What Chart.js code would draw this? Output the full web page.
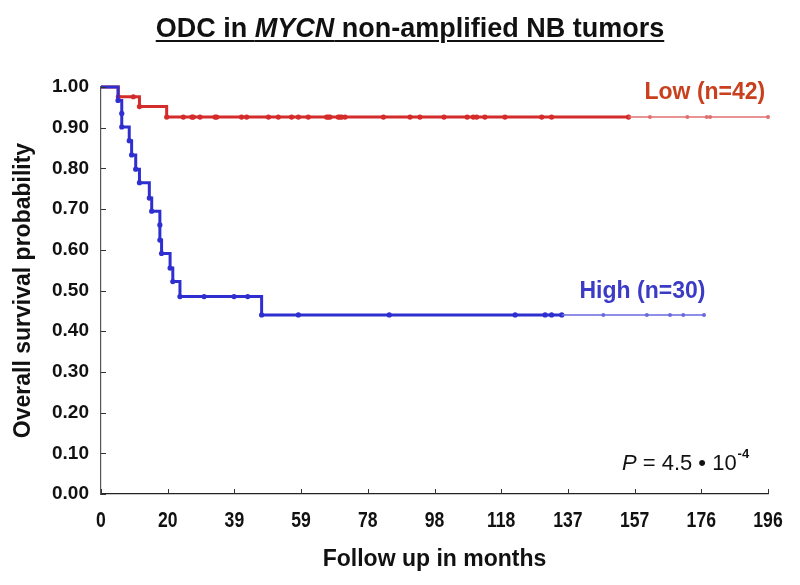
<!DOCTYPE html>
<html>
<head>
<meta charset="utf-8">
<script src="https://cdn.jsdelivr.net/npm/chart.js@4.4.0/dist/chart.umd.min.js"></script>
<style>
  body { margin: 0; background: #fff; }
  #wrap { position: relative; width: 800px; height: 585px; }
  #title {
    position: absolute; left: 0; width: 820px; top: 13px; text-align: center;
    font: bold 27px "Liberation Sans", Arial, sans-serif; color: #111;
  }
  #title span { text-decoration: underline; text-underline-offset: 3px; text-decoration-thickness: 2px; }
</style>
</head>
<body>
<div id="wrap">
  <canvas id="km" width="800" height="585"></canvas>
  <div id="title"><span>ODC in <i>MYCN</i> non-amplified NB tumors</span></div>
</div>
<script>
// Kaplan-Meier steps (months, survival)
const lowTimes = [0, 5.1, 9.5, 11.3, 19.3, 24.2, 26.7, 27.1, 29.1, 33.5, 34.0, 41.3, 42.8, 49.2, 52.1, 56.0, 58.0, 60.9,
  66.3, 66.8, 67.3, 69.7, 70.2, 70.7, 71.7, 83.0, 90.8, 93.7, 100.8, 107.6, 109.4, 110.4, 112.8, 118.7, 129.5, 132.4, 155.0];
const lowSurv = [1.0, 0.976, 0.976, 0.952, 0.926, 0.926, 0.926, 0.926, 0.926, 0.926, 0.926, 0.926, 0.926, 0.926, 0.926, 0.926, 0.926, 0.926,
  0.926, 0.926, 0.926, 0.926, 0.926, 0.926, 0.926, 0.926, 0.926, 0.926, 0.926, 0.926, 0.926, 0.926, 0.926, 0.926, 0.926, 0.926, 0.926];
const lowTailTimes = [155.0, 161.3, 172.3, 178.0, 179.0, 196.0];
const lowTailSurv = [0.926, 0.926, 0.926, 0.926, 0.926, 0.926];

const highTimes = [0, 5.0, 6.1, 6.1, 8.3, 9.0, 10.2, 11.3, 14.2, 14.9, 17.3, 17.3, 17.8, 20.3, 21.1, 23.2,
  30.3, 39.1, 43.1, 47.2, 58.0, 84.7, 121.7, 130.5, 132.4, 135.4];
const highSurv = [1.0, 0.967, 0.935, 0.902, 0.868, 0.833, 0.798, 0.765, 0.727, 0.695, 0.661, 0.624, 0.591, 0.555, 0.522, 0.485,
  0.485, 0.485, 0.485, 0.440, 0.440, 0.440, 0.440, 0.440, 0.440, 0.440];
const highTailTimes = [135.4, 147.6, 160.4, 167.2, 171.1, 177.2];
const highTailSurv = [0.440, 0.440, 0.440, 0.440, 0.440, 0.440];

const xTickValues = [0, 19.6, 39.2, 58.8, 78.4, 98, 117.6, 137.2, 156.8, 176.4, 196];
const xTickLabels = ['0', '20', '39', '59', '78', '98', '118', '137', '157', '176', '196'];
const yTickValues = [0, 0.1, 0.2, 0.3, 0.4, 0.5, 0.6, 0.7, 0.8, 0.9, 1.0];
const yTickLabels = ['0.00', '0.10', '0.20', '0.30', '0.40', '0.50', '0.60', '0.70', '0.80', '0.90', '1.00'];

const RED = '#d42b2b', RED_THIN = '#e07070', BLUE = '#2f2fd0', BLUE_THIN = '#6a6ae0';

function pts(xs, ys) { return xs.map((x, i) => ({ x: x, y: ys[i] })); }

function stepSet(xs, ys, color, width, r) {
  return {
    data: pts(xs, ys), stepped: 'before', borderColor: color, backgroundColor: color,
    borderWidth: width, pointRadius: (c) => c.dataIndex === 0 ? 0 : r, pointHoverRadius: r,
    pointBorderWidth: 0, clip: 6
  };
}

// inward tick marks, narrow x tick labels, and the free text labels
const extras = {
  id: 'extras',
  afterDraw(chart) {
    const { ctx, chartArea: a, scales: { x, y } } = chart;
    ctx.save();
    ctx.strokeStyle = '#333'; ctx.lineWidth = 1;
    ctx.beginPath();
    xTickValues.forEach(v => { const px = Math.round(x.getPixelForValue(v)) + 0.5; ctx.moveTo(px, a.bottom); ctx.lineTo(px, a.bottom - 5); });
    yTickValues.forEach(v => { const py = Math.round(y.getPixelForValue(v)) + 0.5; ctx.moveTo(a.left, py); ctx.lineTo(a.left + 5, py); });
    ctx.stroke();

    // x tick labels in a condensed look
    ctx.fillStyle = '#111';
    ctx.textAlign = 'center';
    ctx.textBaseline = 'middle';
    ctx.font = 'bold 22px "Liberation Sans", Arial, sans-serif';
    xTickValues.forEach((v, i) => {
      ctx.save();
      ctx.translate(x.getPixelForValue(v), a.bottom + 27);
      ctx.scale(0.8, 1);
      ctx.fillText(xTickLabels[i], 0, 0);
      ctx.restore();
    });

    ctx.font = 'bold 23px "Liberation Sans", Arial, sans-serif';
    ctx.textAlign = 'right';
    ctx.fillStyle = '#c9401e';
    ctx.fillText('Low (n=42)', x.getPixelForValue(195.2), y.getPixelForValue(0.985));
    ctx.fillStyle = '#3b3bc6';
    ctx.fillText('High (n=30)', x.getPixelForValue(177.6), y.getPixelForValue(0.497));

    // P value with superscript
    ctx.textAlign = 'left';
    ctx.fillStyle = '#111';
    let px = x.getPixelForValue(153.1);
    const py = y.getPixelForValue(0.075);
    ctx.font = 'italic 22px "Liberation Sans", Arial, sans-serif';
    ctx.fillText('P', px, py);
    px += ctx.measureText('P').width + 6;
    ctx.font = '22px "Liberation Sans", Arial, sans-serif';
    const main = '= 4.5 \u2022 10';
    ctx.fillText(main, px, py);
    px += ctx.measureText(main).width;
    ctx.font = 'bold 13px "Liberation Sans", Arial, sans-serif';
    ctx.fillText('-4', px + 1, py - 9);
    ctx.restore();
  }
};

new Chart(document.getElementById('km'), {
  type: 'scatter',
  data: {
    datasets: [
      stepSet(lowTailTimes, lowTailSurv, RED_THIN, 1.5, 2),
      stepSet(highTailTimes, highTailSurv, BLUE_THIN, 1.5, 2),
      stepSet(highTimes, highSurv, BLUE, 3, 2.6),
      stepSet(lowTimes, lowSurv, RED, 3, 2.6)
    ]
  },
  options: {
    responsive: false,
    animation: false,
    showLine: true,
    layout: { padding: { left: 0, top: 87, right: 32, bottom: 0 } },
    plugins: { legend: { display: false }, tooltip: { enabled: false } },
    scales: {
      x: {
        type: 'linear', min: 0, max: 196,
        afterBuildTicks: (s) => { s.ticks = xTickValues.map(v => ({ value: v })); },
        afterFit: (s) => { s.height = 91; },
        grid: { display: true, drawOnChartArea: false, drawTicks: false },
        border: { color: '#222', width: 1.2 },
        ticks: { display: false },
        title: {
          display: true, text: 'Follow up in months', color: '#111',
          font: { family: '"Liberation Sans", Arial', size: 23, weight: 'bold' },
          padding: { top: 0, bottom: 12 }
        }
      },
      y: {
        min: 0, max: 1,
        afterBuildTicks: (s) => { s.ticks = yTickValues.map(v => ({ value: v })); },
        afterFit: (s) => { s.width = 101; },
        grid: { display: true, drawOnChartArea: false, drawTicks: false },
        border: { color: '#555', width: 1.2 },
        ticks: {
          padding: 12, color: '#111',
          font: { family: '"Liberation Sans", Arial', size: 19, weight: 'bold' },
          callback: (v, i) => yTickLabels[i]
        },
        title: {
          display: true, text: 'Overall survival probability', color: '#111',
          font: { family: '"Liberation Sans", Arial', size: 23, weight: 'bold' },
          padding: { top: 10, bottom: 0 }
        }
      }
    }
  },
  plugins: [extras]
});
</script>
</body>
</html>
